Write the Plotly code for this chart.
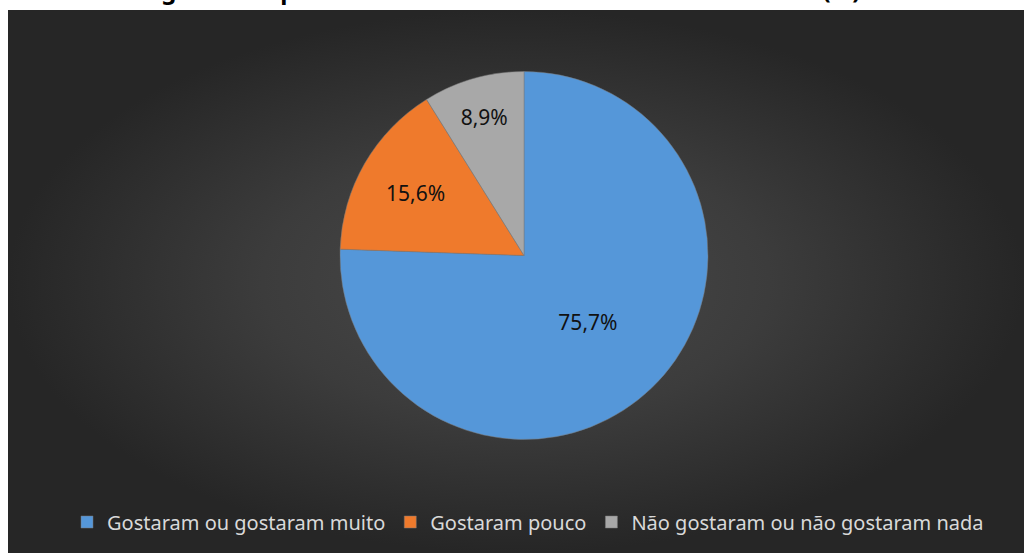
import plotly.graph_objects as go

labels = ["Gostaram ou gostaram muito", "Gostaram pouco", "Não gostaram ou não gostaram nada"]
values = [75.7, 15.6, 8.9]
colors = ["#5597d9", "#ef7a2c", "#a8a8a8"]
title_text = "Figura 2 – Opinião dos alunos sobre a atividade realizada (%)"

W, H = 1024, 553
fig = go.Figure()

# dark background with radial gradient
x0, x1 = 8 / W, 1.0
y0, y1 = 0.0, 1 - 10 / H
fig.add_trace(go.Scatter(
    x=[x0, x1, x1, x0, x0], y=[y0, y0, y1, y1, y0],
    mode="lines", line=dict(width=0), fill="toself",
    fillgradient=dict(type="radial",
                      colorscale=[[0, "#4a4a4a"], [0.5, "#3c3c3c"], [1, "#262626"]]),
    hoverinfo="skip", showlegend=False,
))

cx, cy, r = 524 / W, 1 - 255.5 / H, 184
fig.add_trace(go.Pie(
    labels=labels, values=values, sort=False, direction="clockwise", rotation=0,
    marker=dict(colors=colors, line=dict(color="#7a7a7a", width=0.5)),
    texttemplate="%{value:.1f}%", textposition="inside", insidetextorientation="horizontal",
    textfont=dict(family="Noto Sans", size=21, color="#111111"),
    domain=dict(x=[cx - r / W, cx + r / W], y=[cy - r / H, cy + r / H]),
    hoverinfo="label+value", showlegend=True,
))

fig.add_annotation(
    text="<b>" + title_text + "</b>", xref="paper", yref="paper",
    x=500 / W, y=1 - 8 / H, xanchor="center", yanchor="bottom",
    showarrow=False, font=dict(family="Noto Sans", size=24, color="#000000"),
)

fig.update_layout(
    width=W, height=H, margin=dict(l=0, r=0, t=0, b=0),
    paper_bgcolor="white", plot_bgcolor="rgba(0,0,0,0)",
    separators=",.",
    xaxis=dict(range=[0, 1], visible=False, domain=[0, 1], fixedrange=True),
    yaxis=dict(range=[0, 1], visible=False, domain=[0, 1], fixedrange=True),
    legend=dict(orientation="h", x=528 / W, xanchor="center", y=1 - 522 / H, yanchor="middle",
                font=dict(family="Noto Sans", size=20, color="#d9d9d9"),
                bgcolor="rgba(0,0,0,0)", itemwidth=30, traceorder="normal"),
)

fig.write_html("out.html", config={"displayModeBar": False},
               post_script="document.body.style.margin='0px';")
